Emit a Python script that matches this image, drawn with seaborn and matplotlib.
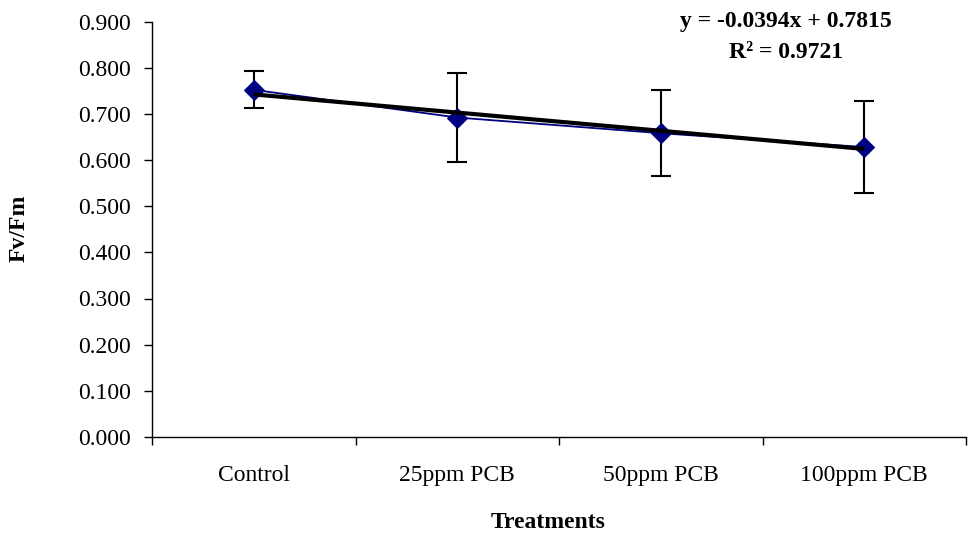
import numpy as np
import pandas as pd
import matplotlib
matplotlib.use("Agg")
import matplotlib.pyplot as plt
import seaborn as sns

categories = ["Control", "25ppm PCB", "50ppm PCB", "100ppm PCB"]
means = [0.752, 0.692, 0.658, 0.628]
errors = [0.040, 0.096, 0.093, 0.099]
trend_slope = -0.0394
trend_intercept = 0.7815
r_squared = 0.9721
y_ticks = [0.0, 0.1, 0.2, 0.3, 0.4, 0.5, 0.6, 0.7, 0.8, 0.9]

sns.set_style("white")
plt.rcParams['font.family'] = ['Liberation Serif', 'DejaVu Serif']
plt.rcParams['text.color'] = 'black'
plt.rcParams['axes.labelcolor'] = 'black'
plt.rcParams['xtick.color'] = 'black'
plt.rcParams['ytick.color'] = 'black'

df = pd.DataFrame({"Treatment": categories, "Fv/Fm": means, "err": errors})
df["pos"] = np.arange(len(categories)) + 0.5

L, R, T, B = 152, 966, 21.5, 437
fig = plt.figure(figsize=(9.69, 5.36), dpi=100)
ax = fig.add_axes([L/969, (536-B)/536, (R-L)/969, (B-T)/536])

xi = np.arange(1, len(categories) + 1)
trend = trend_slope * xi + trend_intercept
ax.errorbar(df["pos"], df["Fv/Fm"], yerr=df["err"], fmt="none", ecolor="black",
            elinewidth=1.5, capsize=7.5, capthick=1.5, zorder=2)
sns.lineplot(data=df, x="pos", y="Fv/Fm", color="#000080", lw=1.3, marker="D",
             markersize=10, markeredgecolor="#000080", ax=ax, zorder=3)
ax.plot(df["pos"], trend, color="black", lw=3, zorder=4, solid_capstyle="butt")

fs = 17
ax.set_xlim(0, len(categories))
ax.set_ylim(0, 0.9)
ax.set_yticks(y_ticks)
ax.set_yticklabels([f"{v:.3f}" for v in y_ticks], fontsize=fs)
ax.set_xticks(np.arange(len(categories) + 1))
ax.set_xticklabels([])
ax.set_xticks(df["pos"], minor=True)
ax.set_xticklabels(categories, minor=True, fontsize=fs)
ax.tick_params(axis="x", which="minor", length=0, pad=20)
ax.tick_params(axis="both", which="major", direction="out", length=6, width=1,
               color="black", left=True, bottom=True)
ax.tick_params(axis="y", pad=9)

for s in ["top", "right"]:
    ax.spines[s].set_visible(False)
for s in ["left", "bottom"]:
    ax.spines[s].set_color("black")
    ax.spines[s].set_linewidth(1)

ax.set_xlabel("Treatments", fontsize=fs, fontweight="bold", va="center")
ax.set_ylabel("Fv/Fm", fontsize=fs, fontweight="bold", va="center")
ax.xaxis.set_label_coords((548 - L) / (R - L), (B - 522) / (B - T))
ax.yaxis.set_label_coords((19 - L) / (R - L), (B - 228) / (B - T))

fig.text(786/969, 1 - 22/536, f"y = {trend_slope:.4f}x + {trend_intercept:.4f}",
         ha="center", va="center", fontsize=fs, fontweight="bold")
fig.text(786/969, 1 - 53/536, f"R² = {r_squared:.4f}",
         ha="center", va="center", fontsize=fs, fontweight="bold")

fig.savefig("out.png", dpi=100)
